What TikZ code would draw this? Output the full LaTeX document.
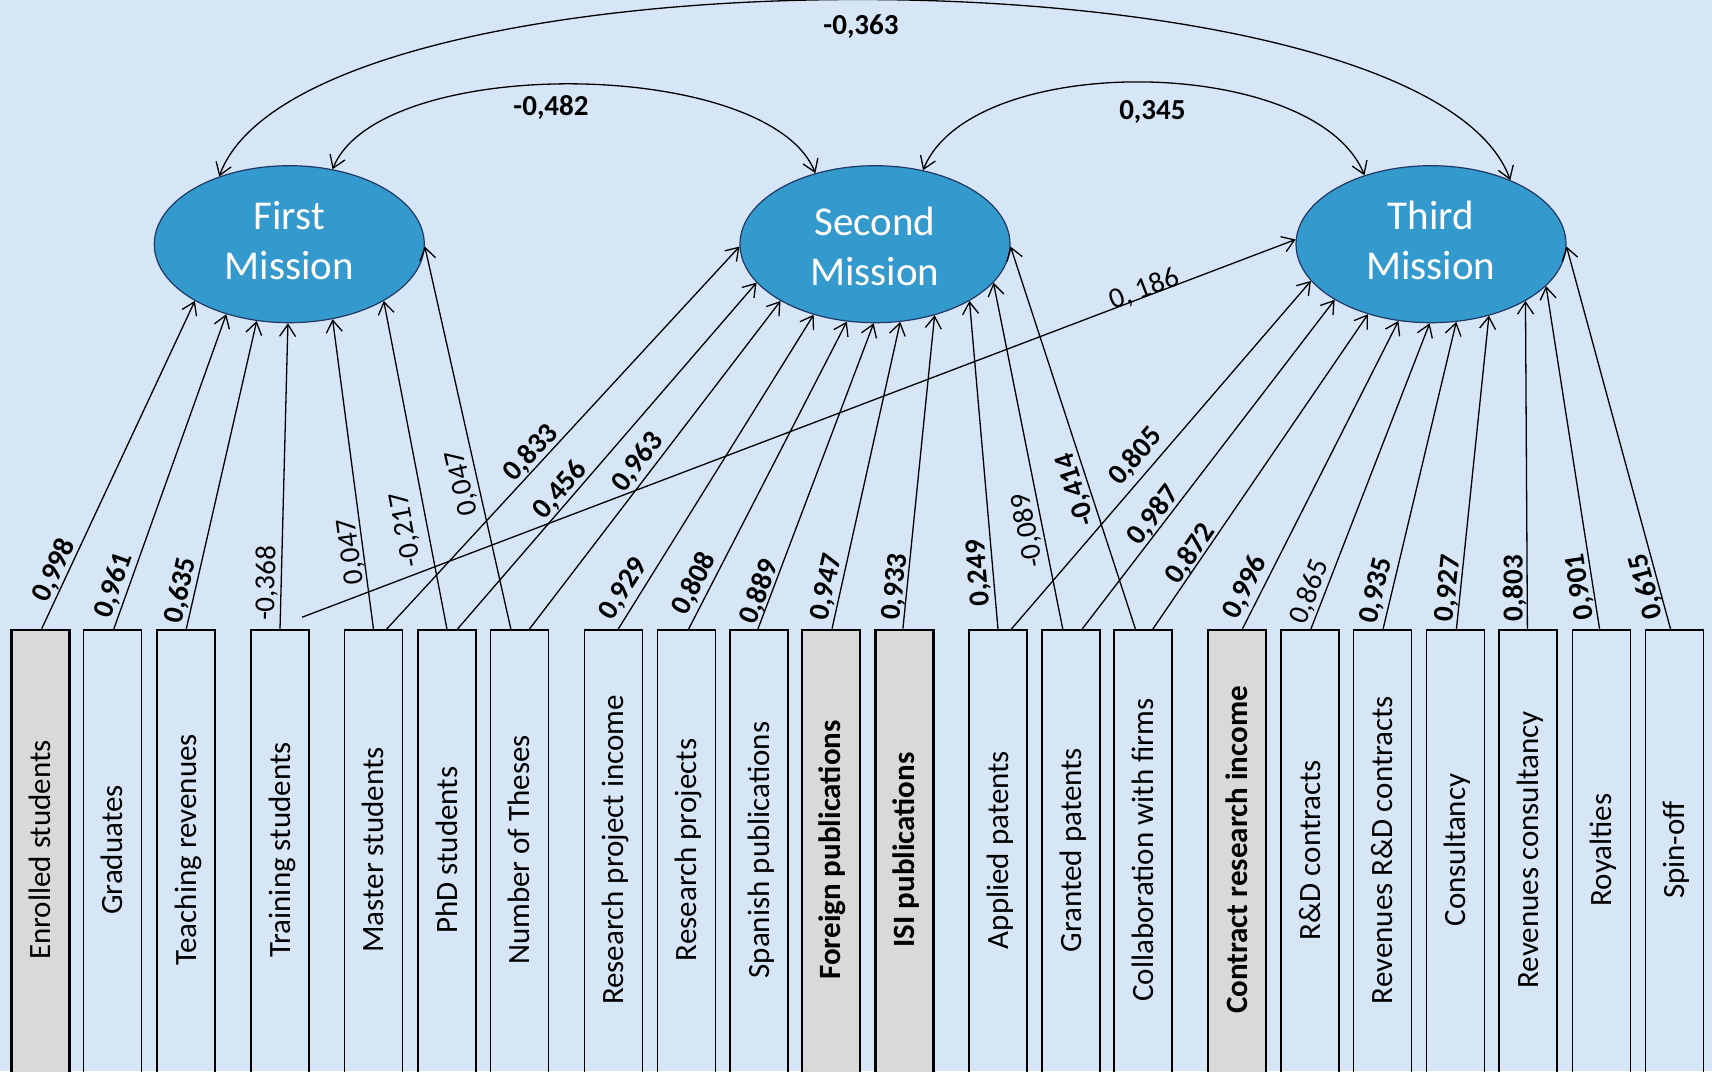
\documentclass[tikz,border=0pt]{standalone}
\usepackage{fontspec}
\setmainfont{Carlito}
\usetikzlibrary{arrows.meta,shapes.geometric}
\definecolor{paper}{RGB}{215,230,246}
\definecolor{latentfill}{RGB}{52,153,204}
\definecolor{latentline}{RGB}{31,56,100}
\definecolor{markedfill}{RGB}{217,217,217}
\begin{document}
\begin{tikzpicture}[x=1pt,y=1pt,
  latent/.style={ellipse, draw=latentline, line width=1.2pt, fill=latentfill,
    minimum width=270pt, minimum height=157pt, inner sep=0pt, align=center,
    text=white, font=\fontsize{41}{50}\selectfont, text height=70.2pt, text depth=0pt},
  indic/.style={rectangle, draw=black, line width=1.5pt, minimum width=58pt,
    minimum height=460pt, inner sep=0pt},
  marked/.style={indic, fill=markedfill, line width=2.6pt},
  indtext/.style={rotate=90, inner sep=0pt, font=\fontsize{31}{37}\selectfont,
    text height=20pt, text depth=0pt},
  indbold/.style={indtext, font=\fontsize{31}{37}\selectfont\bfseries},
  coef/.style={inner sep=0pt, font=\fontsize{29}{34}\selectfont\bfseries,
    text height=18pt, text depth=0pt},
  coefplain/.style={coef, font=\fontsize{29}{34}\selectfont},
  barb/.tip={Straight Barb[length=12pt,width=16pt]},
  load/.style={line width=1.3pt, -barb},
  cov/.style={line width=1.3pt, barb-barb},
]
\useasboundingbox (0,0) rectangle (1712,-1071);
\clip (0,0) rectangle (1712,-1071);
\fill[paper] (0,0) rectangle (1712,-1071);

% latent factors
\node[latent] (fm) at (289.3,-244.2) {First\\Mission};
\node[latent, text height=81.6pt] (sm) at (875,-244.2) {Second\\Mission};
\node[latent] (tm) at (1431,-244.2) {Third\\Mission};

% indicator boxes
\node[marked] (b1)  at (40.7,-860)  {};
\node[indic]  (b2)  at (112.7,-860) {};
\node[indic]  (b3)  at (186.2,-860) {};
\node[indic]  (b4)  at (280,-860)   {};
\node[indic]  (b5)  at (373.5,-860) {};
\node[indic]  (b6)  at (447,-860)   {};
\node[indic]  (b7)  at (519.3,-860) {};
\node[indic]  (b8)  at (613.5,-860) {};
\node[indic]  (b9)  at (686.3,-860) {};
\node[indic]  (b10) at (759.1,-860) {};
\node[marked] (b11) at (830.9,-860) {};
\node[marked] (b12) at (904.7,-860) {};
\node[indic]  (b13) at (998,-860)   {};
\node[indic]  (b14) at (1071,-860)  {};
\node[indic]  (b15) at (1143,-860)  {};
\node[marked] (b16) at (1237,-860)  {};
\node[indic]  (b17) at (1310,-860)  {};
\node[indic]  (b18) at (1382.4,-860) {};
\node[indic]  (b19) at (1455.4,-860) {};
\node[indic]  (b20) at (1528.2,-860) {};
\node[indic]  (b21) at (1601.3,-860) {};
\node[indic]  (b22) at (1674.4,-860) {};

% indicator names
\node[indtext] (n1)  at ([yshift=10pt]b1.center)  {Enrolled students};
\node[indtext] (n2)  at ([yshift=10pt]b2.center)  {Graduates};
\node[indtext] (n3)  at ([yshift=10pt]b3.center)  {Teaching revenues};
\node[indtext] (n4)  at ([yshift=10pt]b4.center)  {Training students};
\node[indtext] (n5)  at ([yshift=10pt]b5.center)  {Master students};
\node[indtext] (n6)  at ([yshift=10pt]b6.center)  {PhD students};
\node[indtext] (n7)  at ([yshift=10pt]b7.center)  {Number of Theses};
\node[indtext] (n8)  at ([yshift=10pt]b8.center)  {Research project income};
\node[indtext] (n9)  at ([yshift=10pt]b9.center)  {Research projects};
\node[indtext] (n10) at ([yshift=10pt]b10.center) {Spanish publications};
\node[indbold] (n11) at ([yshift=10pt]b11.center) {Foreign publications};
\node[indbold] (n12) at ([yshift=10pt]b12.center) {ISI publications};
\node[indtext] (n13) at ([yshift=10pt]b13.center) {Applied patents};
\node[indtext] (n14) at ([yshift=10pt]b14.center) {Granted patents};
\node[indtext] (n15) at ([yshift=10pt]b15.center) {Collaboration with firms};
\node[indbold] (n16) at ([yshift=10pt]b16.center) {Contract research income};
\node[indtext] (n17) at ([yshift=10pt]b17.center) {R\&D contracts};
\node[indtext] (n18) at ([yshift=10pt]b18.center) {Revenues R\&D contracts};
\node[indtext] (n19) at ([yshift=10pt]b19.center) {Consultancy};
\node[indtext] (n20) at ([yshift=10pt]b20.center) {Revenues consultancy};
\node[indtext] (n21) at ([yshift=10pt]b21.center) {Royalties};
\node[indtext] (n22) at ([yshift=10pt]b22.center) {Spin-off};

% loadings on the first mission
\draw[load] ([xshift=1pt]b1.north) -- (fm.211);
\draw[load] ([xshift=1pt]b2.north) -- (fm.228);
\draw[load] (b3.north) -- (fm.247);
\draw[load] (b4.north) -- (fm.269);
\draw[load] (b5.north) -- (fm.300);
\draw[load] (b6.north) -- (fm.329);
\draw[load] ([xshift=-8.4pt]b7.north) -- (fm.359);

% loadings on the second mission
\draw[load] ([xshift=13pt]b5.north) -- (sm.181);
\draw[load] ([xshift=10.3pt]b6.north) -- (sm.198);
\draw[load] ([xshift=10pt]b7.north) -- (sm.211);
\draw[load] ([xshift=4.6pt]b8.north) -- (sm.229);
\draw[load] ([xshift=2.2pt]b9.north) -- (sm.250);
\draw[load] ([xshift=-1.3pt]b10.north) -- (sm.269);
\draw[load] ([xshift=1.1pt]b11.north) -- (sm.288);
\draw[load] ([xshift=-1.8pt]b12.north) -- (sm.310);
\draw[load] (b13.north) -- (sm.329);
\draw[load] ([xshift=-8.2pt]b14.north) -- (sm.342);
\draw[load] ([xshift=-7.5pt]b15.north) -- (sm.359);

% loadings on the third mission
\coordinate (trainoff) at ([xshift=22pt,yshift=12pt]b4.north);
\draw[load] (trainoff) -- (tm.178);
\draw[load] ([xshift=13.2pt]b13.north) -- (tm.197);
\draw[load] ([xshift=11pt]b14.north) -- (tm.210);
\draw[load] ([xshift=9.7pt]b15.north) -- (tm.228);
\draw[load] ([xshift=5.5pt]b16.north) -- (tm.247);
\draw[load] ([xshift=0.8pt]b17.north) -- (tm.269);
\draw[load] ([xshift=0.6pt]b18.north) -- (tm.288);
\draw[load] ([xshift=1pt]b19.north) -- (tm.309);
\draw[load] ([xshift=-0.8pt]b20.north) -- (tm.329);
\draw[load] ([xshift=-1.7pt]b21.north) -- (tm.340);
\draw[load] ([xshift=-3.8pt]b22.north) -- (tm.359);

% correlations between missions
\draw[cov] (fm.60) .. controls +(68:125) and +(112:125) .. (sm.130);
\draw[cov] (sm.57) .. controls +(68:130) and +(112:130) .. (tm.134);
\draw[cov] (fm.136) .. controls +(70:253) and +(110:253) .. (tm.39);
\node[coef] (c1) at (551,-106.7) {-0,482};
\node[coef] (c2) at (1152.4,-110) {0,345};
\node[coef] (c3) at (861,-25) {-0,363};

% loading coefficients
\node[coef, rotate=65.2]       (k1)  at (53.6,-570)   {0,998};
\node[coef, rotate=70.5]       (k2)  at (112.9,-585)  {0,961};
\node[coef, rotate=77]         (k3)  at (179.9,-590)  {0,635};
\node[coefplain, rotate=88.4]  (k4)  at (266,-583.3)  {-0,368};
\node[coefplain, rotate=97.5]  (k5)  at (350.2,-551.7) {0,047};
\node[coefplain, rotate=100.8] (k6)  at (404.9,-530)  {-0,217};
\node[coefplain, rotate=102.7] (k7)  at (461.2,-483.3) {0,047};
\node[coef, rotate=47.3]       (k8)  at (530.5,-452.5) {0,833};
\node[coef, rotate=49]         (k9)  at (559.6,-489.5) {0,456};
\node[coef, rotate=52.6]       (k10) at (637,-461.7)  {0,963};
\node[coef, rotate=58.1]       (k11) at (622.7,-588.3) {0,929};
\node[coef, rotate=62.7]       (k12) at (693.5,-583.3) {0,808};
\node[coef, rotate=69.2]       (k13) at (758.6,-591.7) {0,889};
\node[coef, rotate=77.5]       (k14) at (825.5,-586.7) {0,947};
\node[coef, rotate=83.7]       (k15) at (894.4,-586.7) {0,933};
\node[coef, rotate=94.6]       (k16) at (977.5,-573)  {0,249};
\node[coefplain, rotate=101.3] (k17) at (1027,-531)   {-0,089};
\node[coef, rotate=107.9]      (k18) at (1075,-490)   {-0,414};
\node[coefplain, rotate=20.8]  (k19) at (1144,-288.3) {0, 186};
\node[coef, rotate=49.1]       (k20) at (1135,-456)   {0,805};
\node[coef, rotate=52.4]       (k21) at (1152.7,-515) {0,987};
\node[coef, rotate=55.6]       (k22) at (1189.8,-553.3) {0,872};
\node[coef, rotate=63]         (k23) at (1244.4,-586.7) {0,996};
\node[coefplain, rotate=68.7]  (k24) at (1308.8,-591.7) {0,865};
\node[coef, rotate=76.4]       (k25) at (1375.2,-590) {0,935};
\node[coef, rotate=83.6]       (k26) at (1447.4,-588.3) {0,927};
\node[coef, rotate=90]         (k27) at (1513.7,-588.3) {0,803};
\node[coef, rotate=98.6]       (k28) at (1579.3,-586.7) {0,901};
\node[coef, rotate=105.1]      (k29) at (1645.5,-586.7) {0,615};
\end{tikzpicture}
\end{document}
